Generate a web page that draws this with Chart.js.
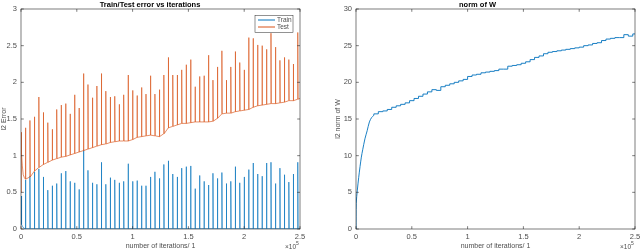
<!DOCTYPE html>
<html>
<head>
  <title>Train/Test error and norm of W</title>
  <script src="https://cdn.jsdelivr.net/npm/chart.js@4.4.1/dist/chart.umd.min.js"></script>
  <style>
    body { margin: 0; background: #fff; }
    .box { position: absolute; top: 0; width: 320px; height: 250px; }
  </style>
</head>
<body>
  <div class="box" style="left:0"><canvas id="errChart" width="320" height="250"></canvas></div>
  <div class="box" style="left:320px"><canvas id="normChart" width="320" height="250"></canvas></div>
  <script>
    // iteration at which each spike happens
    var spikeIters = [4000, 8000, 12000, 16000, 20000, 24000, 28000, 32000, 36000, 40000,
      44000, 48000, 52000, 56000, 60000, 64000, 68000, 72000, 76000, 80000,
      84000, 88000, 92000, 96000, 100000, 104000, 108000, 112000, 116000, 120000,
      124000, 128000, 132000, 136000, 140000, 144000, 148000, 152000, 156000, 160000,
      164000, 168000, 172000, 176000, 180000, 184000, 188000, 192000, 196000, 200000,
      204000, 208000, 212000, 216000, 220000, 224000, 228000, 232000, 236000, 240000,
      244000, 248000];

    // train error
    var trainStartIters = [0, 200, 800, 1600, 2600];
    var trainStartVals = [0.45, 0.10, 0.06, 0.03, 0.01];
    var trainFloor = 0.004;
    var trainPeaks = [0.67, 0.72, 0.78, 0.82, 0.71, 0.53, 0.59, 0.62, 0.76, 0.79,
      0.65, 0.63, 0.54, 1.08, 0.80, 0.63, 0.61, 0.91, 0.61, 0.70,
      0.67, 0.63, 0.65, 0.89, 0.65, 0.66, 0.59, 0.59, 0.71, 0.78,
      0.69, 0.88, 0.93, 0.75, 0.71, 0.83, 0.85, 0.86, 0.55, 0.73,
      0.65, 0.60, 0.76, 0.69, 0.77, 0.62, 0.65, 0.85, 0.63, 0.71,
      0.81, 0.90, 0.75, 0.72, 0.90, 0.91, 0.62, 0.83, 0.74, 0.64,
      0.75, 0.91];

    // test error
    var testStartIters = [0, 150, 600, 1200, 2000, 3000];
    var testStartVals = [0.50, 1.32, 1.05, 0.86, 0.74, 0.70];
    var testBase = [0.68, 0.71, 0.79, 0.84, 0.88, 0.91, 0.94, 0.96, 0.98, 0.99,
      1.01, 1.03, 1.05, 1.07, 1.09, 1.11, 1.13, 1.15, 1.16, 1.18,
      1.19, 1.20, 1.20, 1.20, 1.22, 1.25, 1.26, 1.27, 1.28, 1.27,
      1.26, 1.30, 1.38, 1.40, 1.42, 1.44, 1.44, 1.45, 1.46, 1.46,
      1.46, 1.46, 1.47, 1.51, 1.57, 1.58, 1.58, 1.60, 1.61, 1.62,
      1.63, 1.66, 1.68, 1.69, 1.70, 1.71, 1.71, 1.72, 1.73, 1.75,
      1.75, 1.77];
    var testPeaks = [1.38, 1.48, 1.53, 1.80, 1.59, 1.45, 1.36, 1.63, 1.69, 1.71,
      1.57, 1.83, 1.65, 2.12, 1.97, 1.79, 1.95, 2.12, 1.88, 1.80,
      1.81, 1.70, 1.83, 2.10, 1.89, 1.82, 1.93, 1.84, 2.09, 1.84,
      1.90, 2.10, 2.34, 2.10, 2.10, 2.17, 2.24, 2.31, 1.94, 2.08,
      2.09, 2.37, 2.03, 2.21, 2.43, 2.03, 2.21, 2.42, 2.27, 2.17,
      2.61, 2.60, 2.51, 2.50, 2.45, 2.67, 2.48, 2.30, 2.34, 2.31,
      2.25, 2.68];
    var testEndVal = 1.78;

    // norm of W (smooth start, then small steps)
    var normIters = [0, 200, 1200, 2400, 3600, 4800, 6000, 8000, 10000, 12000,
      14000, 16000, 20000, 24000, 28000, 32000, 36000, 40000, 44000, 48000,
      52000, 56000, 60000, 64000, 68000, 72000, 76000, 80000, 84000, 88000,
      92000, 96000, 100000, 104000, 108000, 112000, 116000, 120000, 124000, 128000,
      132000, 136000, 140000, 144000, 148000, 152000, 156000, 160000, 164000, 168000,
      172000, 176000, 180000, 184000, 188000, 192000, 196000, 200000, 204000, 208000,
      212000, 216000, 220000, 224000, 228000, 232000, 236000, 240000, 244000, 248000, 250000];
    var normVals = [0, 3.5, 5.3, 7.0, 8.5, 9.8, 10.8, 12.3, 13.4, 14.6,
      15.2, 15.5, 15.7, 16.0, 16.1, 16.3, 16.6, 16.8, 17.0, 17.2,
      17.5, 17.8, 18.1, 18.4, 18.7, 19.0, 18.9, 19.4, 19.6, 19.8,
      20.0, 20.2, 20.4, 20.8, 21.0, 21.1, 21.3, 21.4, 21.5, 21.6,
      21.8, 21.8, 22.2, 22.3, 22.4, 22.6, 22.8, 23.1, 23.4, 23.6,
      23.9, 24.1, 24.2, 24.3, 24.4, 24.5, 24.6, 24.7, 24.8, 25.0,
      25.1, 25.3, 25.4, 25.7, 25.9, 26.0, 26.1, 26.1, 26.5, 26.3, 26.6];
    var normSmoothUntil = 11; // index where the steps start

    var xTicks = [0, 50000, 100000, 150000, 200000, 250000];

    var blue = '#0072BD', orange = '#D95319';
    var txt = '#4d4d4d', axisCol = '#262626';
    var fontFam = "'Liberation Sans', Arial, sans-serif";

    // turn start + spikes into x/y points
    function spikePoints(startIters, startVals, bases, peaks, endVal) {
      var pts = [];
      for (var i = 0; i < startIters.length; i++) pts.push({x: startIters[i], y: startVals[i]});
      for (var k = 0; k < spikeIters.length; k++) {
        var b = Array.isArray(bases) ? bases[k] : bases;
        pts.push({x: spikeIters[k], y: b});
        pts.push({x: spikeIters[k], y: peaks[k]});
        pts.push({x: spikeIters[k] + 300, y: b});
      }
      pts.push({x: 250000, y: endVal});
      return pts;
    }

    var boxPlugin = {
      id: 'matlabBox',
      afterDraw: function(chart) {
        var ctx = chart.ctx, a = chart.chartArea, xs = chart.scales.x, ys = chart.scales.y;
        ctx.save();
        ctx.strokeStyle = axisCol;
        ctx.lineWidth = 0.6;
        ctx.strokeRect(a.left, a.top, a.right - a.left, a.bottom - a.top);
        ctx.beginPath();
        xs.ticks.forEach(function(t) {
          var px = xs.getPixelForValue(t.value);
          ctx.moveTo(px, a.bottom); ctx.lineTo(px, a.bottom - 2.8);
          ctx.moveTo(px, a.top); ctx.lineTo(px, a.top + 2.8);
        });
        ys.ticks.forEach(function(t) {
          var py = ys.getPixelForValue(t.value);
          ctx.moveTo(a.left, py); ctx.lineTo(a.left + 2.8, py);
          ctx.moveTo(a.right, py); ctx.lineTo(a.right - 2.8, py);
        });
        ctx.stroke();
        // x10^5 exponent
        ctx.fillStyle = txt;
        ctx.textBaseline = 'alphabetic';
        ctx.textAlign = 'left';
        ctx.font = '6.5px ' + fontFam;
        ctx.fillText('\u00d710', a.right - 15, 249);
        ctx.font = '5px ' + fontFam;
        ctx.fillText('5', a.right - 4, 245);
        ctx.restore();
      }
    };

    var legendPlugin = {
      id: 'boxLegend',
      afterDraw: function(chart) {
        var ctx = chart.ctx;
        ctx.save();
        ctx.fillStyle = '#fff';
        ctx.fillRect(255, 15.5, 38, 17);
        ctx.strokeStyle = '#262626';
        ctx.lineWidth = 0.5;
        ctx.strokeRect(255, 15.5, 38, 17);
        ctx.font = '6.5px ' + fontFam;
        ctx.textBaseline = 'middle';
        ctx.textAlign = 'left';
        chart.data.datasets.slice().sort(function(p, q) { return q.order - p.order; }).forEach(function(ds, i) {
          var y = 20 + i * 7;
          ctx.strokeStyle = ds.borderColor;
          ctx.lineWidth = 1;
          ctx.beginPath(); ctx.moveTo(258, y); ctx.lineTo(275, y); ctx.stroke();
          ctx.fillStyle = txt;
          ctx.fillText(ds.label, 277, y + 0.5);
        });
        ctx.restore();
      }
    };

    function axisOptions(yMax, yStep, yLabel, yWidth, yTitlePad) {
      return {
        x: {
          type: 'linear', min: 0, max: 250000,
          afterBuildTicks: function(s) { s.ticks = xTicks.map(function(v) { return {value: v}; }); },
          afterFit: function(s) { s.height = 21; s.paddingLeft = 0; s.paddingRight = 0; },
          grid: {display: false, drawTicks: false}, border: {display: false},
          ticks: {color: txt, font: {size: 7.5, family: fontFam}, padding: 3, maxRotation: 0,
            callback: function(v) { return String(Math.round(v / 1000) / 100); }},
          title: {display: true, text: 'number of iterations/ 1', color: txt,
            font: {size: 7, family: fontFam}, padding: 0}
        },
        y: {
          min: 0, max: yMax,
          afterFit: function(s) { s.width = yWidth; s.paddingTop = 0; s.paddingBottom = 0; },
          grid: {display: false, drawTicks: false}, border: {display: false},
          ticks: {stepSize: yStep, color: txt, font: {size: 7.5, family: fontFam}, padding: 4,
            callback: function(v) { return String(Math.round(v * 100) / 100); }},
          title: {display: true, text: yLabel, color: txt,
            font: {size: 7, family: fontFam}, padding: {top: yTitlePad, bottom: 0}}
        }
      };
    }

    function titleOptions(text) {
      return {display: true, text: text, color: '#000',
        font: {size: 7.5, weight: 'bold', family: fontFam}, padding: {top: 0, bottom: 0}};
    }

    new Chart(document.getElementById('errChart').getContext('2d'), {
      type: 'line',
      data: {
        datasets: [{
          label: 'Train',
          data: spikePoints(trainStartIters, trainStartVals, trainFloor, trainPeaks, trainFloor),
          borderColor: blue, borderWidth: 0.65, pointRadius: 0, tension: 0, order: 2
        }, {
          label: 'Test',
          data: spikePoints(testStartIters, testStartVals, testBase, testPeaks, testEndVal),
          borderColor: orange, borderWidth: 0.65, pointRadius: 0, tension: 0, order: 1
        }]
      },
      options: {
        responsive: false, animation: false,
        layout: {padding: {left: 0, right: 20, top: 0, bottom: 0}},
        plugins: {legend: {display: false}, tooltip: {enabled: false},
          title: titleOptions('Train/Test error vs iterations')},
        scales: axisOptions(3, 0.5, 'l2 Error', 21, 0)
      },
      plugins: [boxPlugin, legendPlugin]
    });

    var normPts = normIters.map(function(it, i) { return {x: it, y: normVals[i]}; });
    new Chart(document.getElementById('normChart').getContext('2d'), {
      type: 'line',
      data: {
        datasets: [{
          label: 'norm of W',
          data: normPts.slice(0, normSmoothUntil + 1),
          borderColor: blue, borderWidth: 0.9, pointRadius: 0, tension: 0.3
        }, {
          label: 'norm of W steps',
          data: normPts.slice(normSmoothUntil),
          borderColor: blue, borderWidth: 0.9, pointRadius: 0, tension: 0, stepped: 'after'
        }]
      },
      options: {
        responsive: false, animation: false,
        layout: {padding: {left: 0, right: 5, top: 0, bottom: 0}},
        plugins: {legend: {display: false}, tooltip: {enabled: false},
          title: titleOptions('norm of W')},
        scales: axisOptions(30, 5, 'l2 norm of W', 36, 14)
      },
      plugins: [boxPlugin]
    });
  </script>
</body>
</html>
